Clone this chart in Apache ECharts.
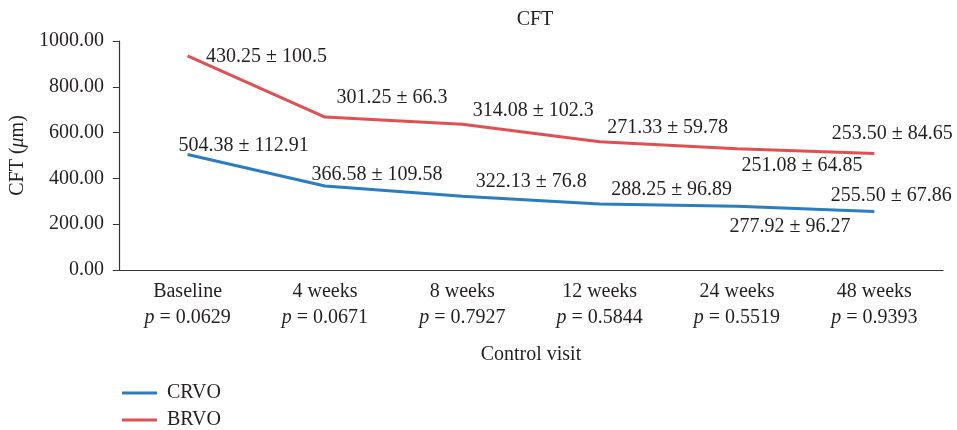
<!DOCTYPE html>
<html><head><meta charset="utf-8">
<script src="https://cdn.jsdelivr.net/npm/echarts@6/dist/echarts.min.js"></script>
<style>html,body{margin:0;padding:0;background:#fff}#c{width:957px;height:430px}</style>
</head><body><div id="c"></div>
<script>
// ---- data ----
var categories = ['Baseline', '4 weeks', '8 weeks', '12 weeks', '24 weeks', '48 weeks'];
var pValues = ['0.0629', '0.0671', '0.7927', '0.5844', '0.5519', '0.9393'];
var crvoMean = [504.38, 366.58, 322.13, 288.25, 277.92, 255.50];
var crvoSD = [112.91, 109.58, 76.8, 96.89, 96.27, 67.86];
var brvoMean = [430.25, 301.25, 314.08, 271.33, 251.08, 253.50];
var brvoSD = [100.5, 66.3, 102.3, 59.78, 64.85, 84.65];
var yTicks = [0, 200, 400, 600, 800, 1000];

// ---- label placement (styling only) ----
var crvoLabelOffset = [[56,-9],[52,-11],[69,-14],[72,-14],[53,20],[17,-16]];
var brvoLabelOffset = [[79,1],[67,-19],[71,-14],[68,-14],[65,17],[18,-20]];

var FONT = 'Liberation Serif';
var FS = 20;
var TXT = '#231f20';
var BLUE = '#2a7dbf';
var RED = '#e04f51';

function buildData(means, sds, offs) {
  return means.map(function (m, i) {
    return {
      value: m,
      label: {
        show: true,
        position: offs[i],
        align: 'center',
        verticalAlign: 'middle',
        formatter: m.toFixed(2) + ' \u00b1 ' + String(sds[i])
      }
    };
  });
}

function legendFor(name, top) {
  return {
    orient: 'vertical', left: 117, top: top, itemWidth: 35, itemHeight: 3,
    icon: 'rect', data: [name],
    textStyle: {fontFamily: FONT, fontSize: FS, color: TXT, padding: [0, 0, 0, 5]}
  };
}

var chart = echarts.init(document.getElementById('c'), null, {renderer: 'canvas'});
chart.setOption({
  animation: false,
  backgroundColor: '#fff',
  textStyle: {fontFamily: FONT, color: TXT},
  title: {
    text: 'CFT', left: 530, top: 5, textAlign: 'center',
    textStyle: {fontFamily: FONT, fontWeight: 'normal', fontSize: FS, color: TXT}
  },
  legend: [legendFor('CRVO', 378), legendFor('BRVO', 405)],
  grid: {left: 117, right: 14, top: 41, bottom: 160, containLabel: false},
  xAxis: {
    type: 'category', data: categories, boundaryGap: true,
    axisLine: {lineStyle: {color: '#333', width: 1.2}},
    axisTick: {show: false},
    axisLabel: {
      interval: 0, margin: 9,
      formatter: function (v, i) { return v + '\n{i|p} = ' + pValues[i]; },
      fontFamily: FONT, fontSize: FS, color: TXT, lineHeight: 26,
      rich: {i: {fontStyle: 'italic', fontFamily: FONT, fontSize: FS, color: TXT, lineHeight: 26}}
    },
    name: 'Control visit', nameLocation: 'middle', nameGap: 75,
    nameTextStyle: {fontFamily: FONT, fontSize: FS, color: TXT}
  },
  yAxis: {
    type: 'value', min: yTicks[0], max: yTicks[yTicks.length - 1], interval: 200,
    axisLine: {show: true, lineStyle: {color: '#333', width: 1.2}},
    axisTick: {show: true, length: 6, inside: false, lineStyle: {color: '#333'}},
    splitLine: {show: false},
    axisLabel: {
      margin: 15, fontFamily: FONT, fontSize: FS, color: TXT,
      formatter: function (v) { return v.toFixed(2); }
    },
    name: 'CFT ({i|\u03bc}m)', nameLocation: 'middle', nameGap: 88, nameRotate: 90,
    nameTextStyle: {
      fontFamily: FONT, fontSize: FS, color: TXT,
      rich: {i: {fontStyle: 'italic', fontFamily: FONT, fontSize: FS, color: TXT}}
    }
  },
  series: [
    {
      name: 'CRVO', type: 'line', stack: 'total',
      data: buildData(crvoMean, crvoSD, crvoLabelOffset),
      symbol: 'circle', symbolSize: 0, showSymbol: true,
      lineStyle: {color: BLUE, width: 3}, itemStyle: {color: BLUE},
      label: {fontFamily: FONT, fontSize: FS, color: TXT},
      emphasis: {disabled: true}
    },
    {
      name: 'BRVO', type: 'line', stack: 'total',
      data: buildData(brvoMean, brvoSD, brvoLabelOffset),
      symbol: 'circle', symbolSize: 0, showSymbol: true,
      lineStyle: {color: RED, width: 3}, itemStyle: {color: RED},
      label: {fontFamily: FONT, fontSize: FS, color: TXT},
      emphasis: {disabled: true}
    }
  ]
});
</script></body></html>
